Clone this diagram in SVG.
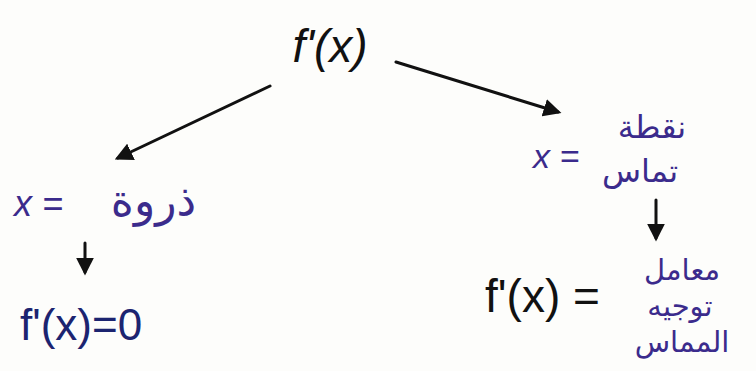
<svg xmlns="http://www.w3.org/2000/svg" width="756" height="371" viewBox="0 0 756 371">
<defs>
<style>
.k{font-family:"Liberation Sans","DejaVu Sans",sans-serif;fill:#111}
.p{font-family:"Liberation Sans","DejaVu Sans",sans-serif;fill:#3b2b8c}
.b{font-family:"Liberation Sans","DejaVu Sans",sans-serif;fill:#1c2470}
.ar{font-family:"DejaVu Sans","Noto Sans",sans-serif;fill:#3b2b8c}
.ln{stroke:#111;stroke-width:3;fill:none;stroke-linecap:round}
</style>
<marker id="ah" viewBox="0 0 10 10" refX="8" refY="5" markerWidth="6" markerHeight="6" orient="auto-start-reverse">
<path d="M0,0 L10,5 L0,10 z" fill="#111"/>
</marker>
</defs>
<rect width="756" height="371" fill="#fdfdfb"/>
<g id="connectors">
<line class="ln" x1="270" y1="86" x2="118" y2="158" marker-end="url(#ah)"/>
<line class="ln" x1="396" y1="62" x2="558" y2="112" marker-end="url(#ah)"/>
<line class="ln" x1="85" y1="243" x2="85" y2="272" marker-end="url(#ah)"/>
<line class="ln" x1="656" y1="200" x2="656" y2="238" marker-end="url(#ah)"/>
</g>
<g id="root">
<text class="k" x="330" y="62" font-size="46" text-anchor="middle" font-style="italic">f'(x)</text>
</g>
<g id="peak">
<text class="p" x="14" y="216" font-size="36" font-style="italic">x =</text>
<text class="ar" x="196" y="216" font-size="44" text-anchor="end">ذروة</text>
</g>
<g id="tangent">
<text class="p" x="533" y="168" font-size="34" font-style="italic">x =</text>
<text class="ar" x="652" y="138" font-size="32" text-anchor="middle">نقطة</text>
<text class="ar" x="640" y="182" font-size="32" text-anchor="middle">تماس</text>
</g>
<g id="zero">
<text class="b" x="20" y="340" font-size="44">f'(x)=0</text>
</g>
<g id="slope">
<text class="k" x="485" y="312" font-size="46">f'(x) =</text>
<text class="ar" x="682" y="280" font-size="29" text-anchor="middle">معامل</text>
<text class="ar" x="680" y="316" font-size="29" text-anchor="middle">توجيه</text>
<text class="ar" x="682" y="352" font-size="29" text-anchor="middle">المماس</text>
</g>
</svg>
